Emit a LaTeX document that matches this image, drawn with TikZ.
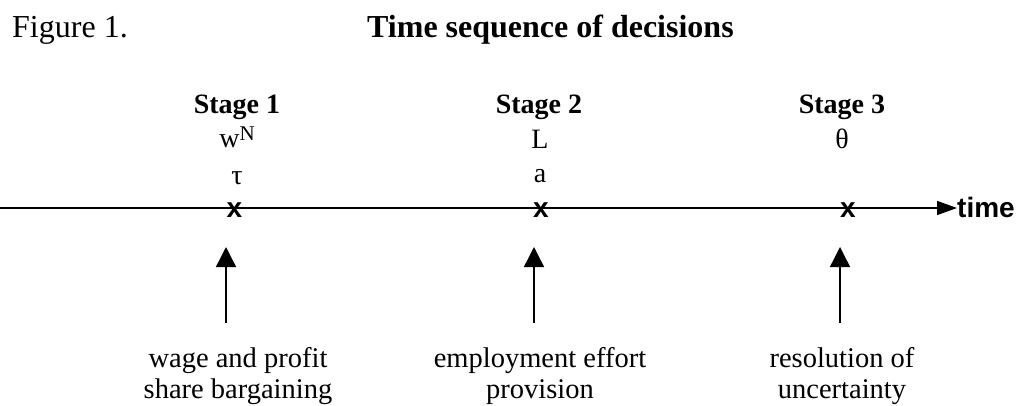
\documentclass[tikz,border=0pt]{standalone}
\usepackage{fontspec}
\setmainfont{Liberation Serif}
\setsansfont{Liberation Sans}
\usetikzlibrary{arrows.meta}
\begin{document}
\begin{tikzpicture}[x=1pt,y=-1pt,
  txt/.style={inner sep=0pt,anchor=base,font=\fontsize{28}{32}\selectfont},
  ttl/.style={inner sep=0pt,anchor=base,font=\fontsize{32}{36}\selectfont},
  stg/.style={txt,font=\fontsize{28}{32}\selectfont\bfseries},
  xmark/.style={txt,font=\fontsize{28}{32}\selectfont\sffamily\bfseries},
  lbl/.style={txt,align=center,font=\fontsize{28.5}{30.5}\selectfont},
  axis/.style={line width=1.5pt,-{Triangle[length=20pt,width=14pt]}},
  uparrow/.style={line width=1.4pt,-{Triangle[length=20pt,width=20pt]}}
]
\useasboundingbox (0,0) rectangle (1017,405);
% titles
\node[ttl,anchor=base west] (fig) at (12,37) {Figure 1.};
\node[ttl,anchor=base west,font=\fontsize{32}{36}\selectfont\bfseries] (title) at (367,37) {Time sequence of decisions};
% stages
\node[stg] (s1) at (237,113) {Stage 1};
\node[stg] (s2) at (539,113) {Stage 2};
\node[stg] (s3) at (842,113) {Stage 3};
% variables
\node[txt] (wN) at (237,147) {w\raisebox{7pt}{\fontsize{21}{21}\selectfont N}};
\node[txt] (tau) at (237,184) {τ};
\node[txt] (L) at (540,148) {L};
\node[txt] (a) at (540,182) {a};
\node[txt] (theta) at (842,148) {θ};
% axis
\coordinate (a0) at (0,208);
\node[xmark,anchor=base west] (time) at (957,217) {time};
\draw[axis] (a0) -- (time.west |- a0) ;
\node[xmark] (x1) at (234.5,217) {x};
\node[xmark] (x2) at (541,217) {x};
\node[xmark] (x3) at (848,217) {x};
% up arrows
\coordinate (b1) at (226,323); \coordinate (t1) at (226,247);
\coordinate (b2) at (534,323); \coordinate (t2) at (534,247);
\coordinate (b3) at (840,323); \coordinate (t3) at (840,247);
\draw[uparrow] (b1) -- (t1);
\draw[uparrow] (b2) -- (t2);
\draw[uparrow] (b3) -- (t3);
% labels (anchor=base is the last line's baseline)
\node[lbl] (l1) at (238,398) {wage and profit\\share bargaining};
\node[lbl] (l2) at (540,398) {employment effort\\provision};
\node[lbl] (l3) at (842,398) {resolution of\\uncertainty};
\end{tikzpicture}
\end{document}
